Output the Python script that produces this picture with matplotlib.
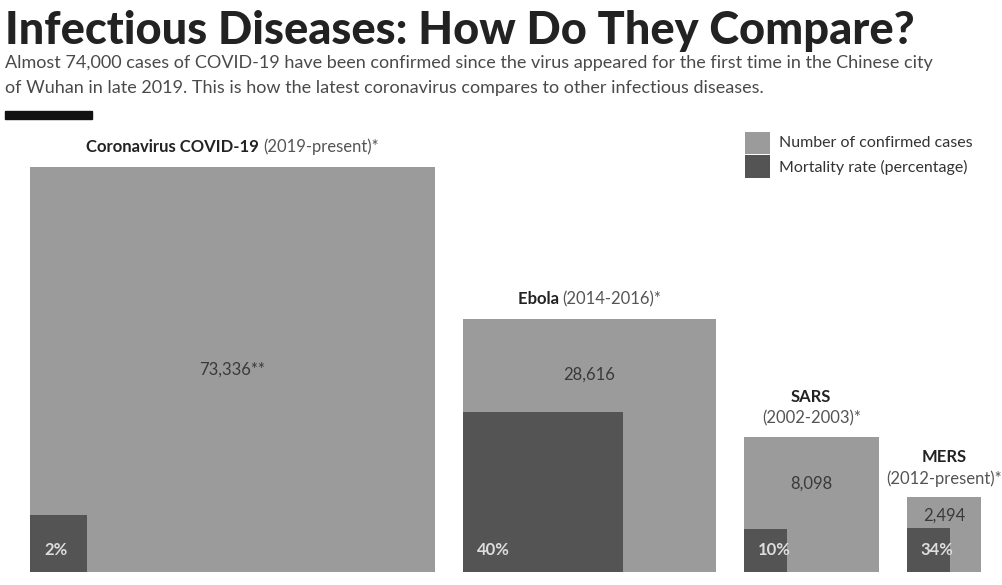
import numpy as np
import matplotlib.pyplot as plt
from matplotlib.patches import Rectangle

diseases = ['Coronavirus COVID-19', 'Ebola', 'SARS', 'MERS']
periods = ['(2019-present)*', '(2014-2016)*', '(2002-2003)*', '(2012-present)*']
cases = [73336, 28616, 8098, 2494]
case_labels = ['73,336**', '28,616', '8,098', '2,494']
mortality = [2, 40, 10, 34]

light = '#9b9b9b'
dark = '#545454'
font = 'Lato'

fig = plt.figure(figsize=(10.02, 5.85), dpi=100)
ax = fig.add_axes([0, 0, 1, 1])
ax.set_xlim(0, 1002)
ax.set_ylim(585, 0)
ax.axis('off')
renderer = fig.canvas.get_renderer()

ax.text(5, 31, 'Infectious Diseases: How Do They Compare?', fontsize=32.5,
        fontweight='black', family=font, color='#222222', va='center')
ax.text(5, 55, 'Almost 74,000 cases of COVID-19 have been confirmed since the virus appeared for the first time in the Chinese city\n'
        'of Wuhan in late 2019. This is how the latest coronavirus compares to other infectious diseases.',
        fontsize=13, family=font, color='#4a4a4a', va='top', linespacing=1.72)
ax.add_patch(Rectangle((5, 111), 87, 8, color='#111111'))

# square side proportional to sqrt(cases), dark square area = mortality share
scale = 405 / np.sqrt(max(cases))
base = 572
x = 30
gap = 28
for i in range(len(cases)):
    side = scale * np.sqrt(cases[i])
    dside = side * np.sqrt(mortality[i] / 100)
    ax.add_patch(Rectangle((x, base - side), side, side, color=light, lw=0))
    ax.add_patch(Rectangle((x, base - dside), dside, dside, color=dark, lw=0))
    cx = x + side / 2
    if i == 0:
        ty = base - side + side * 0.5
    elif i == 1:
        ty = base - side + 56
    elif i == 2:
        ty = base - side + 46
    else:
        ty = base - side + 18
    ax.text(cx, ty, case_labels[i], ha='center', va='center', fontsize=12,
            family=font, color='#3a3a3a')
    ax.text(x + 14, base - 22, f'{mortality[i]}%', ha='left', va='center', fontsize=12,
            family=font, fontweight='bold', color='#dddddd')
    if i < 2:
        ly = base - side - 20
        t1 = ax.text(0, ly, diseases[i] + ' ', ha='left', va='center',
                     fontsize=12, family=font, fontweight='bold', color='#222222')
        t2 = ax.text(0, ly, periods[i], ha='left', va='center',
                     fontsize=12, family=font, color='#555555')
        w1 = t1.get_window_extent(renderer).width
        w2 = t2.get_window_extent(renderer).width
        start = cx - (w1 + w2) / 2
        t1.set_x(start)
        t2.set_x(start + w1)
    else:
        ax.text(cx, base - side - 40, diseases[i], ha='center', va='center',
                fontsize=12, family=font, fontweight='bold', color='#222222')
        ax.text(cx, base - side - 19, periods[i], ha='center', va='center',
                fontsize=12, family=font, color='#555555')
    x += side + gap

# legend
ax.add_patch(Rectangle((745, 132), 25, 22, color=light, lw=0))
ax.add_patch(Rectangle((745, 155), 25, 23, color=dark, lw=0))
ax.text(779, 143, 'Number of confirmed cases', va='center', fontsize=11.5,
        family=font, color='#333333')
ax.text(779, 167, 'Mortality rate (percentage)', va='center', fontsize=11.5,
        family=font, color='#333333')

fig.savefig('out.png', dpi=100, facecolor='white')
